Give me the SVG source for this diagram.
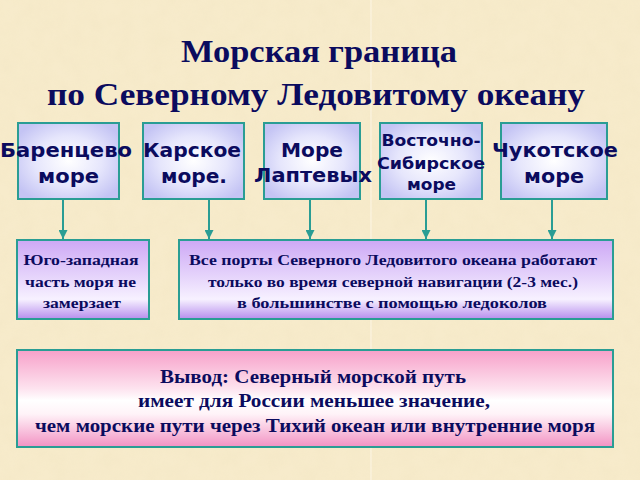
<svg xmlns="http://www.w3.org/2000/svg" width="640" height="480" viewBox="0 0 640 480">
  <defs>
    <style>
      .bg { fill: #f7ebcb; }
      .box { stroke: #2a9d94; stroke-width: 2; }
      .sea { fill: url(#seaGrad); }
      .info { fill: url(#infoGrad); }
      .concl { fill: url(#conclGrad); }
      .title { font-family: "Liberation Serif", "Times New Roman", serif; font-weight: bold; font-size: 31px; fill: #0b0b5e; text-anchor: middle; }
      .sans { font-family: "DejaVu Sans", Verdana, sans-serif; font-weight: bold; font-size: 20px; fill: #0b0b5e; text-anchor: middle; }
      .sans16 { font-size: 16px; }
      .serif { font-family: "Liberation Serif", "Times New Roman", serif; font-weight: bold; font-size: 15px; fill: #0b0b5e; text-anchor: middle; }
      .serif17 { font-size: 18px; }
      .conn { stroke: #2a9d94; stroke-width: 2; fill: none; marker-end: url(#arrow); }
    </style>
    <radialGradient id="seaGrad" cx="0.5" cy="0.5" r="0.6">
      <stop offset="0" stop-color="#ffffff"/>
      <stop offset="0.55" stop-color="#e6e6fc"/>
      <stop offset="1" stop-color="#c4c4f4"/>
    </radialGradient>
    <linearGradient id="infoGrad" x1="0" y1="0" x2="0" y2="1">
      <stop offset="0" stop-color="#cda8f5"/>
      <stop offset="0.45" stop-color="#e5d3fb"/>
      <stop offset="0.75" stop-color="#f7f1ff"/>
      <stop offset="1" stop-color="#b78eee"/>
    </linearGradient>
    <linearGradient id="conclGrad" x1="0" y1="0" x2="0" y2="1">
      <stop offset="0" stop-color="#f7a0c9"/>
      <stop offset="0.4" stop-color="#fde3ef"/>
      <stop offset="0.52" stop-color="#ffffff"/>
      <stop offset="0.66" stop-color="#fff3f8"/>
      <stop offset="1" stop-color="#f292c3"/>
    </linearGradient>
    <marker id="arrow" viewBox="0 0 10 10" refX="10" refY="5" markerWidth="4.5" markerHeight="4.5" markerUnits="strokeWidth" orient="auto">
      <path d="M0,0 L10,5 L0,10 z" fill="#2a9d94"/>
    </marker>
    <filter id="paper" x="0" y="0" width="100%" height="100%">
      <feTurbulence type="fractalNoise" baseFrequency="0.06" numOctaves="3" seed="4" result="n"/>
      <feColorMatrix type="matrix" in="n" values="0 0 0 0 0.85  0 0 0 0 0.75  0 0 0 0 0.5  0 0 0 0.5 -0.12"/>
    </filter>
  </defs>

  <g id="background">
    <rect class="bg" x="0" y="0" width="640" height="480"/>
    <rect x="0" y="0" width="640" height="480" filter="url(#paper)" opacity="0.6"/>
    <line x1="371" y1="0" x2="371" y2="480" stroke="#fffaf0" stroke-width="1" opacity="0.7"/>
  </g>

  <g id="title">
    <text class="title" x="319" y="62" textLength="276" lengthAdjust="spacingAndGlyphs">Морская граница</text>
    <text class="title" x="316" y="105" textLength="538" lengthAdjust="spacingAndGlyphs">по Северному Ледовитому океану</text>
  </g>

  <g id="connectors">
    <line class="conn" x1="63" y1="200" x2="63" y2="239"/>
    <line class="conn" x1="209" y1="200" x2="209" y2="239"/>
    <line class="conn" x1="310" y1="200" x2="310" y2="239"/>
    <line class="conn" x1="426" y1="200" x2="426" y2="239"/>
    <line class="conn" x1="552" y1="200" x2="552" y2="239"/>
  </g>

  <g id="barents">
    <rect class="box sea" x="18" y="123" width="101" height="76"/>
    <text class="sans" x="66" y="157" textLength="132" lengthAdjust="spacingAndGlyphs">Баренцево</text>
    <text class="sans" x="68.5" y="183" textLength="61" lengthAdjust="spacingAndGlyphs">море</text>
  </g>

  <g id="kara">
    <rect class="box sea" x="143" y="123" width="101" height="76"/>
    <text class="sans" x="192" y="157" textLength="98" lengthAdjust="spacingAndGlyphs">Карское</text>
    <text class="sans" x="194" y="183" textLength="66" lengthAdjust="spacingAndGlyphs">море.</text>
  </g>

  <g id="laptev">
    <rect class="box sea" x="264" y="123" width="96" height="76"/>
    <text class="sans" x="312" y="157" textLength="62" lengthAdjust="spacingAndGlyphs">Море</text>
    <text class="sans" x="313" y="182" textLength="118" lengthAdjust="spacingAndGlyphs">Лаптевых</text>
  </g>

  <g id="east-siberian">
    <rect class="box sea" x="380" y="123" width="102" height="76"/>
    <text class="sans sans16" x="431" y="146" textLength="99" lengthAdjust="spacingAndGlyphs">Восточно-</text>
    <text class="sans sans16" x="431" y="169" textLength="108" lengthAdjust="spacingAndGlyphs">Сибирское</text>
    <text class="sans sans16" x="431.5" y="190" textLength="49" lengthAdjust="spacingAndGlyphs">море</text>
  </g>

  <g id="chukchi">
    <rect class="box sea" x="501" y="123" width="106" height="76"/>
    <text class="sans" x="555" y="157" textLength="126" lengthAdjust="spacingAndGlyphs">Чукотское</text>
    <text class="sans" x="554" y="183" textLength="60" lengthAdjust="spacingAndGlyphs">море</text>
  </g>

  <g id="barents-note">
    <rect class="box info" x="17" y="240" width="132" height="79"/>
    <text class="serif" x="81" y="265" textLength="115" lengthAdjust="spacingAndGlyphs">Юго-западная</text>
    <text class="serif" x="80.5" y="287" textLength="111" lengthAdjust="spacingAndGlyphs">часть моря не</text>
    <text class="serif" x="82" y="308" textLength="78" lengthAdjust="spacingAndGlyphs">замерзает</text>
  </g>

  <g id="ports-note">
    <rect class="box info" x="179" y="240" width="434" height="79"/>
    <text class="serif" x="393" y="265" textLength="408" lengthAdjust="spacingAndGlyphs">Все порты Северного Ледовитого океана работают</text>
    <text class="serif" x="393" y="287" textLength="370" lengthAdjust="spacingAndGlyphs">только во время северной навигации (2-3 мес.)</text>
    <text class="serif" x="392" y="308" textLength="310" lengthAdjust="spacingAndGlyphs">в большинстве с помощью ледоколов</text>
  </g>

  <g id="conclusion">
    <rect class="box concl" x="17" y="350" width="596" height="97"/>
    <text class="serif serif17" x="313" y="383" textLength="306" lengthAdjust="spacingAndGlyphs">Вывод: Северный морской путь</text>
    <text class="serif serif17" x="314" y="407" textLength="352" lengthAdjust="spacingAndGlyphs">имеет для России меньшее значение,</text>
    <text class="serif serif17" x="315" y="432" textLength="560" lengthAdjust="spacingAndGlyphs">чем морские пути через Тихий океан или внутренние моря</text>
  </g>
</svg>
